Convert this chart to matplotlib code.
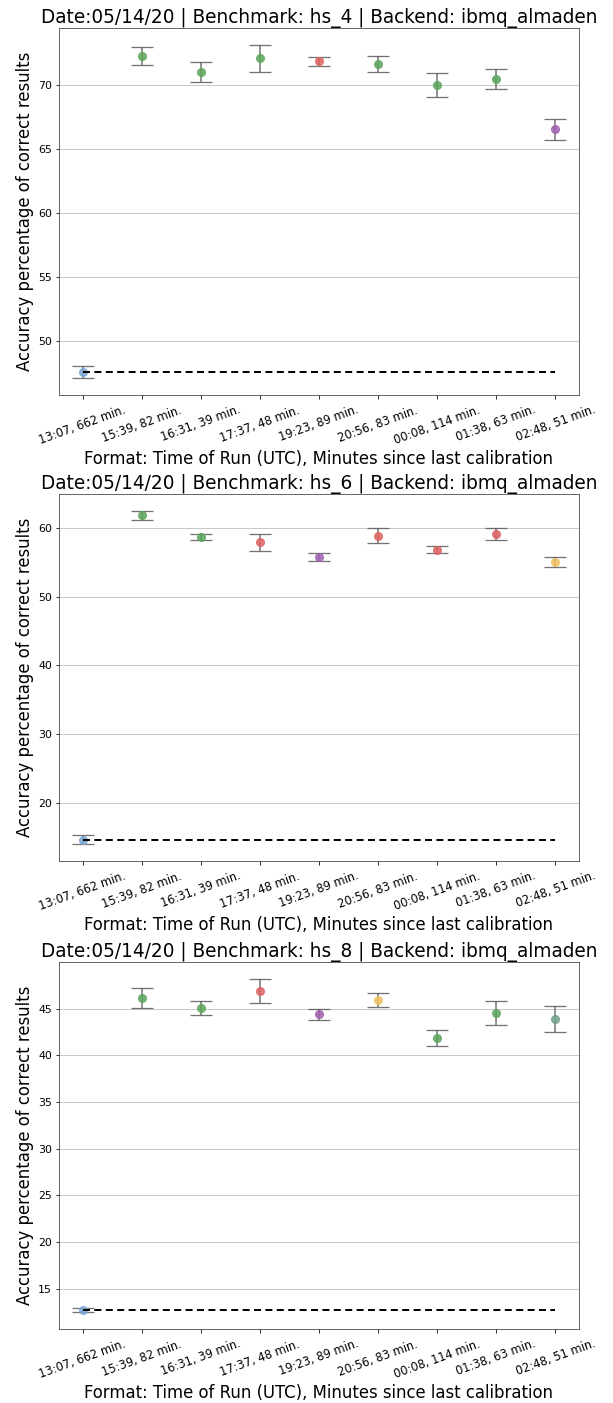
import matplotlib
matplotlib.use("Agg")
import matplotlib.pyplot as plt
import numpy as np

run_labels = ["13:07, 662 min.", "15:39, 82 min.", "16:31, 39 min.", "17:37, 48 min.",
              "19:23, 89 min.", "20:56, 83 min.", "00:08, 114 min.", "01:38, 63 min.",
              "02:48, 51 min."]

benchmarks = ["hs_4", "hs_6", "hs_8"]

hs4_values = [47.58, 72.3, 71.0, 72.1, 71.85, 71.65, 70.0, 70.45, 66.55]
hs4_errors = [0.47, 0.7, 0.78, 1.05, 0.35, 0.65, 0.92, 0.77, 0.83]
hs4_colors = ["#7aa6d6", "#5ca65c", "#5ca65c", "#5ca65c", "#e06060", "#5ca65c",
              "#5ca65c", "#5ca65c", "#a060b0"]

hs6_values = [14.55, 61.9, 58.8, 57.95, 55.8, 58.95, 56.9, 59.15, 55.05]
hs6_errors = [0.65, 0.68, 0.45, 1.25, 0.6, 1.15, 0.5, 0.85, 0.7]
hs6_colors = ["#7aa6d6", "#5ca65c", "#5ca65c", "#e06060", "#a060b0", "#e06060",
              "#e06060", "#e06060", "#f0c060"]

hs8_values = [12.73, 46.1, 45.1, 46.9, 44.4, 45.9, 41.88, 44.5, 43.88]
hs8_errors = [0.25, 1.06, 0.75, 1.3, 0.6, 0.75, 0.87, 1.3, 1.37]
hs8_colors = ["#7aa6d6", "#5ca65c", "#5ca65c", "#e06060", "#a060b0", "#f0c060",
              "#5ca65c", "#5ca65c", "#6fa08a"]

all_values = [hs4_values, hs6_values, hs8_values]
all_errors = [hs4_errors, hs6_errors, hs8_errors]
all_colors = [hs4_colors, hs6_colors, hs8_colors]

W, H = 613, 1403
fig = plt.figure(figsize=(W / 72, H / 72), dpi=72)

# axes boxes in pixels: (left, top, right, bottom)
boxes = [(59, 28, 579, 395), (59, 494, 579, 861), (59, 962, 579, 1329)]

x = np.arange(len(run_labels))
for i, (bm, vals, errs, cols) in enumerate(zip(benchmarks, all_values, all_errors, all_colors)):
    l, t, r, b = boxes[i]
    ax = fig.add_axes([l / W, 1 - b / H, (r - l) / W, (b - t) / H])
    ax.grid(axis="y", color="#c8c8c8", linewidth=1.0, zorder=0)
    ax.set_axisbelow(True)
    for xi, v, e, c in zip(x, vals, errs, cols):
        ax.errorbar(xi, v, yerr=e, fmt="o", color=c, markersize=8, alpha=0.85,
                    ecolor="#5a5a5a", elinewidth=1.5, capsize=11, capthick=1.3, zorder=3)
    ax.plot([x[0], x[-1]], [vals[0], vals[0]], color="black", linewidth=2.0,
            linestyle=(0, (3.5, 2.2)), zorder=4)
    ax.set_xticks(x)
    ax.set_xticklabels(run_labels, rotation=20, fontsize=11.5)
    ax.tick_params(axis="y", labelsize=11)
    ax.tick_params(axis="x", pad=5)
    ax.set_title(f"Date:05/14/20 | Benchmark: {bm} | Backend: ibmq_almaden", fontsize=18.5, pad=5)
    ax.set_ylabel("Accuracy percentage of correct results", fontsize=16.5, labelpad=4)
    ax.set_xlabel("Format: Time of Run (UTC), Minutes since last calibration", fontsize=16.5, labelpad=3)
    for s in ax.spines.values():
        s.set_color("#444444")

fig.savefig("out.png", dpi=72)
